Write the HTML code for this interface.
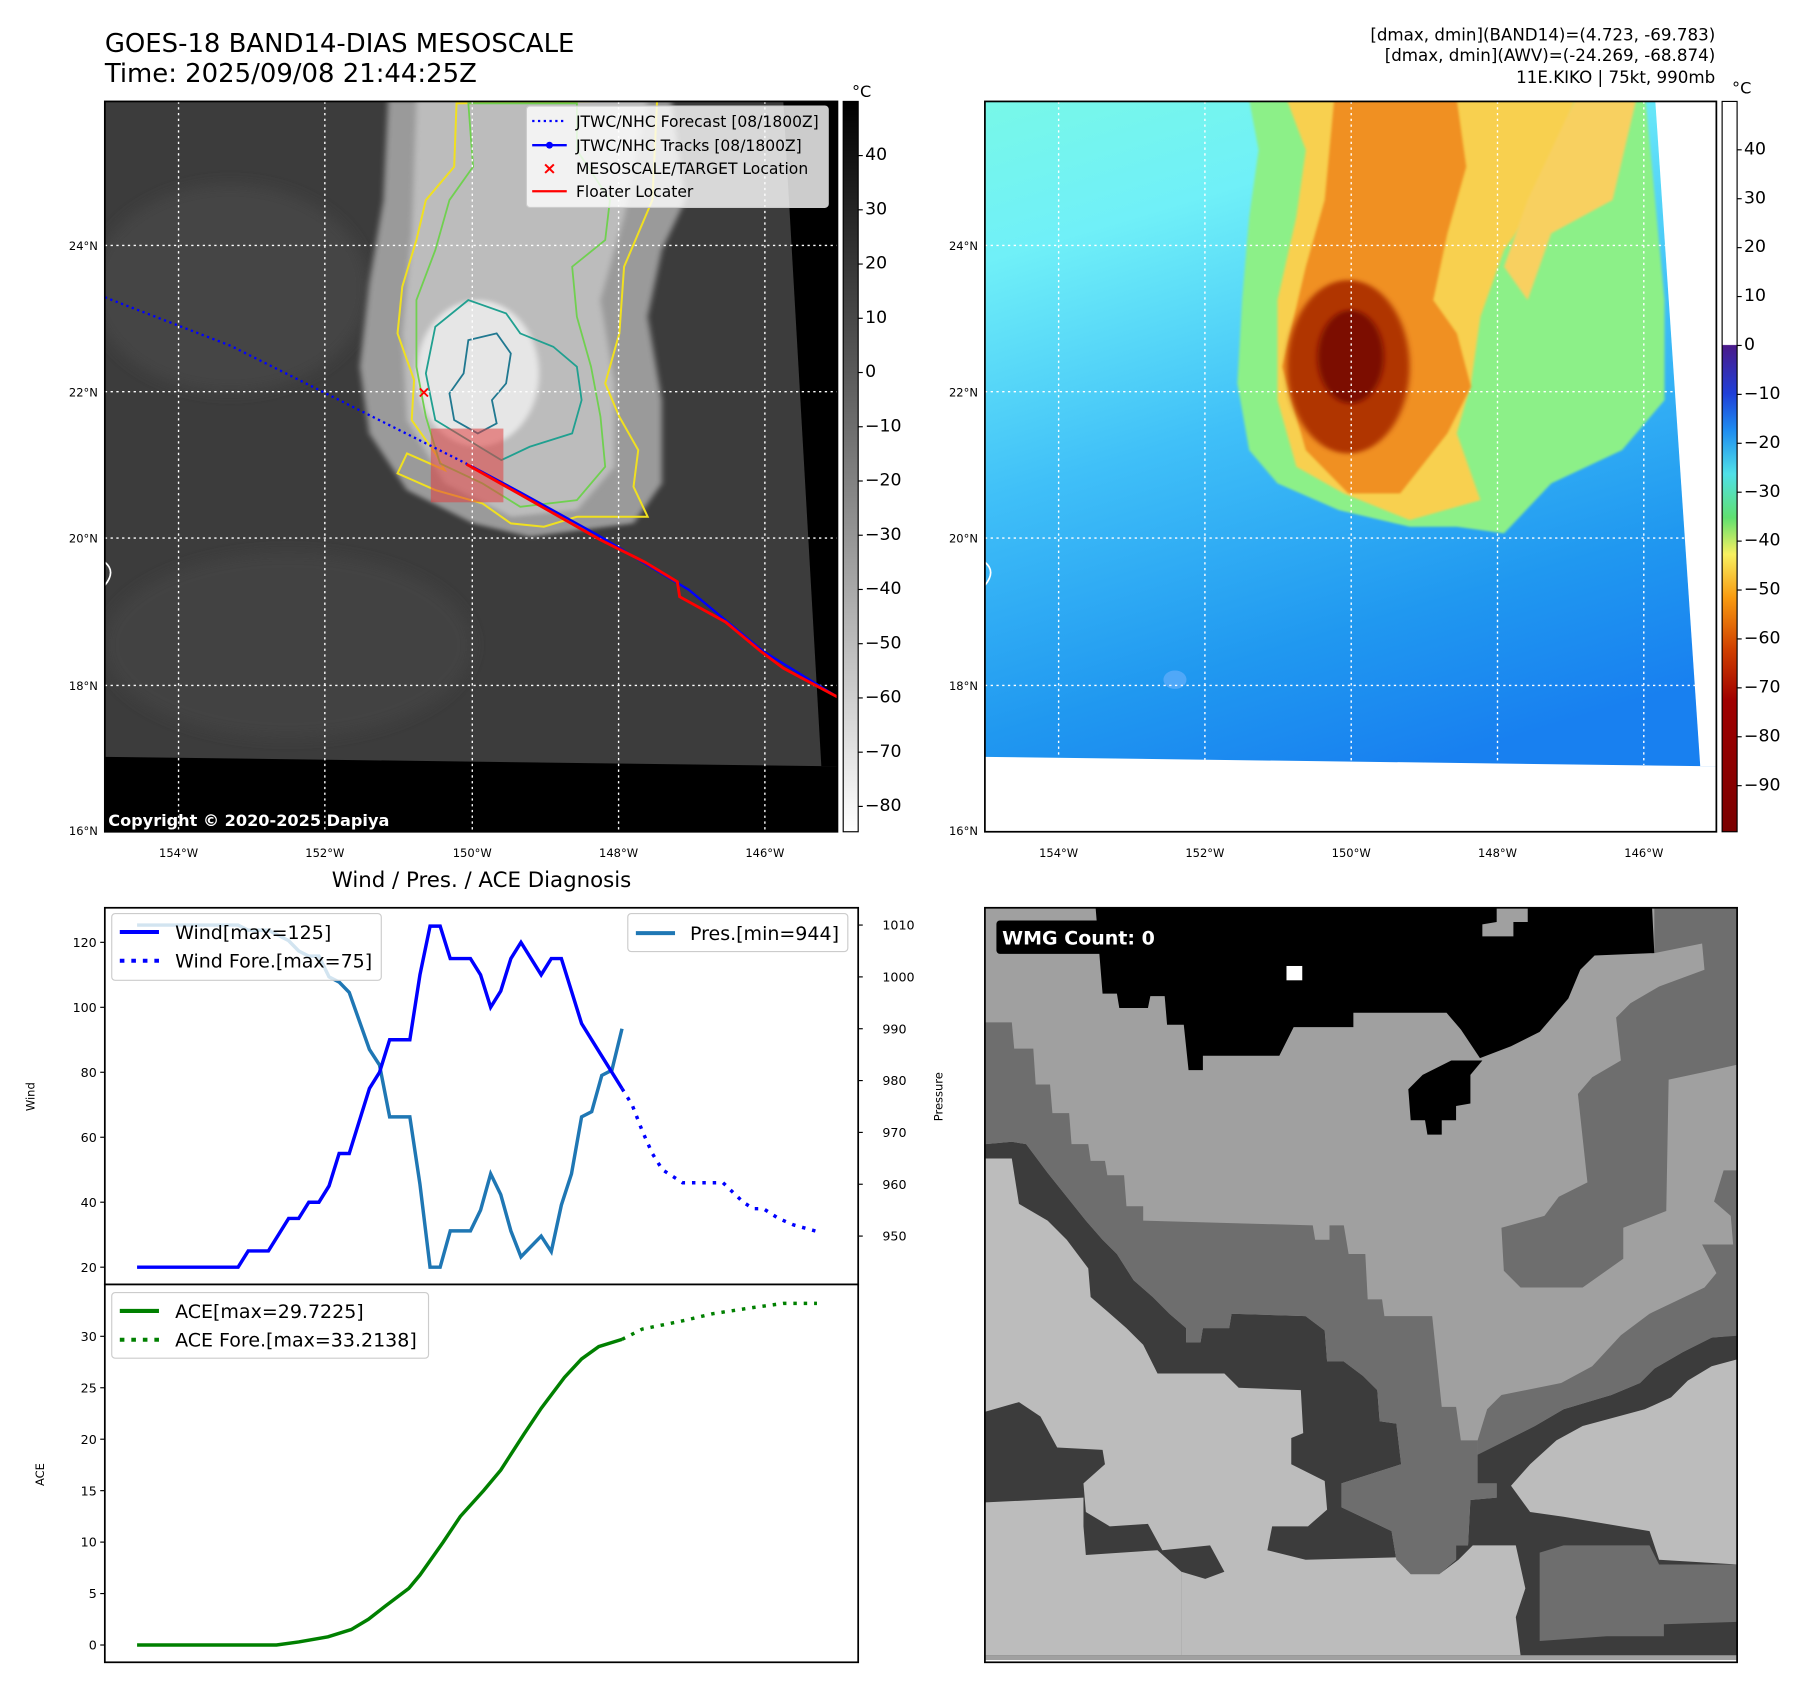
<!DOCTYPE html>
<html><head><meta charset="utf-8"><style>
html,body{margin:0;padding:0;background:#fff}
svg{display:block;font-family:"DejaVu Sans","Liberation Sans",sans-serif}
</style></head><body>
<svg width="1797" height="1690" viewBox="0 0 1560 1467" xmlns="http://www.w3.org/2000/svg">
<defs>
<linearGradient id="cb1" x1="0" y1="0" x2="0" y2="1"><stop offset="0" stop-color="#000"/><stop offset="0.37" stop-color="#5a5a5a"/><stop offset="1" stop-color="#fff"/></linearGradient>
<linearGradient id="cb2" x1="0" y1="0" x2="0" y2="1">
<stop offset="0" stop-color="#fff"/><stop offset="0.333" stop-color="#fff"/>
<stop offset="0.334" stop-color="#4b1a8a"/><stop offset="0.40" stop-color="#1f3fd8"/><stop offset="0.45" stop-color="#1e8cf0"/>
<stop offset="0.51" stop-color="#4fe0e8"/><stop offset="0.57" stop-color="#60e070"/><stop offset="0.62" stop-color="#f8f060"/>
<stop offset="0.68" stop-color="#f89a10"/><stop offset="0.75" stop-color="#d04000"/><stop offset="0.82" stop-color="#a00000"/><stop offset="1" stop-color="#7a0000"/></linearGradient>
<linearGradient id="bgR" x1="0" y1="0" x2="0.3" y2="1"><stop offset="0" stop-color="#78f8e8"/><stop offset="0.2" stop-color="#70f0f8"/><stop offset="0.5" stop-color="#40c0f8"/><stop offset="0.8" stop-color="#2098f0"/><stop offset="1" stop-color="#1880f0"/></linearGradient>
<filter id="blur4"><feGaussianBlur stdDeviation="6"/></filter>
<filter id="blur2"><feGaussianBlur stdDeviation="3"/></filter>
<clipPath id="clipL"><rect x="91" y="88" width="636" height="634"/></clipPath>
<clipPath id="clipR"><rect x="855" y="88" width="635" height="634"/></clipPath>
</defs>

<text x="91" y="45" font-size="22.5">GOES-18 BAND14-DIAS MESOSCALE</text>
<text x="91" y="71" font-size="22.5">Time: 2025/09/08 21:44:25Z</text>
<g font-size="14.5" text-anchor="end">
<text x="1489" y="35">[dmax, dmin](BAND14)=(4.723, -69.783)</text>
<text x="1489" y="53">[dmax, dmin](AWV)=(-24.269, -68.874)</text>
<text x="1489" y="72">11E.KIKO | 75kt, 990mb</text>
</g>

<!-- LEFT MAP -->
<g clip-path="url(#clipL)">
<rect x="91" y="88" width="636" height="634" fill="#3c3c3c"/>
<ellipse cx="200" cy="250" rx="120" ry="90" fill="#444" filter="url(#blur4)"/>
<ellipse cx="250" cy="560" rx="160" ry="80" fill="#434343" filter="url(#blur4)"/>
<g transform="translate(91.1,86.8) scale(0.4097,0.2894)">
<polygon filter="url(#blur4)" fill="#9a9a9a" points="600,0 1200,0 1230,300 1180,450 1150,650 1180,900 1180,1150 1120,1270 900,1310 780,1270 640,1170 560,1000 540,800 560,550 590,300"/>
<polygon filter="url(#blur4)" fill="#bcbcbc" points="660,0 1150,0 1100,350 1050,600 1080,850 1080,1100 1000,1230 860,1250 720,1150 640,960 630,700 650,400"/>
<ellipse filter="url(#blur4)" cx="790" cy="820" rx="130" ry="220" fill="#e6e6e6"/>
<polygon fill="none" stroke="#f0e020" stroke-width="2" vector-effect="non-scaling-stroke" points="745,10 740,200 680,300 660,420 630,560 620,700 655,840 650,960 700,1060 720,1110 640,1060 620,1120 700,1170 800,1210 860,1270 930,1280 1000,1250 1150,1250 1120,1160 1130,1050 1090,950 1060,850 1090,700 1100,500 1130,400 1160,300 1170,0"/>
<polygon fill="none" stroke="#70d050" stroke-width="1.8" vector-effect="non-scaling-stroke" points="770,10 780,200 730,300 700,450 660,600 660,800 680,950 710,1090 800,1150 880,1220 1000,1200 1060,1100 1050,950 1030,800 1000,650 990,500 1060,420 1070,300 1000,150 1000,10"/>
<polygon fill="none" stroke="#20a090" stroke-width="1.8" vector-effect="non-scaling-stroke" points="770,600 850,640 880,700 950,740 1000,800 1010,900 990,1000 900,1040 840,1080 770,1020 700,960 680,820 700,680"/>
<polygon fill="none" stroke="#207890" stroke-width="1.8" vector-effect="non-scaling-stroke" points="770,720 830,700 860,760 850,850 820,900 830,970 790,1000 740,960 730,880 760,820"/>
</g>
<polygon points="91,657 713,665 727,665 727,722 91,722" fill="#000"/>
<polygon points="680,88 727,88 727,665 713,665" fill="#000"/>
<rect x="374" y="372" width="63" height="64" fill="#e04040" fill-opacity="0.55"/>
<g stroke="#fff" stroke-width="1.2" stroke-dasharray="2,3">
<line x1="155" y1="88" x2="155" y2="722"/><line x1="282" y1="88" x2="282" y2="722"/><line x1="410" y1="88" x2="410" y2="722"/><line x1="537" y1="88" x2="537" y2="722"/><line x1="664" y1="88" x2="664" y2="722"/>
<line x1="91" y1="213" x2="727" y2="213"/><line x1="91" y1="340" x2="727" y2="340"/><line x1="91" y1="467" x2="727" y2="467"/><line x1="91" y1="595" x2="727" y2="595"/>
</g>
<polyline points="91,258 200,300 300,350 410,405" fill="none" stroke="#0000ff" stroke-width="2" stroke-dasharray="2,3"/>
<polyline points="410,405 453,428 520,465 598,512 662,565 727,605" fill="none" stroke="#0000ff" stroke-width="2"/>
<polyline points="405,403 453,430 520,468 560,488 588,505 590,518 630,540 660,565 680,580 727,605" fill="none" stroke="#ff0000" stroke-width="2.5"/>
<text x="368" y="345" font-size="14" fill="#ff0000" text-anchor="middle" font-weight="bold">×</text>
<path d="M91,488 q10,8 0,20" stroke="#fff" fill="none" stroke-width="1.5"/>
<text x="94" y="717" font-size="14" font-weight="bold" fill="#fff">Copyright © 2020-2025 Dapiya</text>
</g>
<rect x="91" y="88" width="636" height="634" fill="none" stroke="#000" stroke-width="1.5"/>
<g font-size="13.5">
<rect x="457" y="92" width="262" height="88" rx="3" fill="#fff" fill-opacity="0.8" stroke="#ccc"/>
<line x1="462" y1="105" x2="492" y2="105" stroke="#0000ff" stroke-width="2" stroke-dasharray="2,3"/><text x="500" y="110">JTWC/NHC Forecast [08/1800Z]</text>
<line x1="462" y1="126" x2="492" y2="126" stroke="#0000ff" stroke-width="2"/><circle cx="477" cy="126" r="3" fill="#0000ff"/><text x="500" y="131">JTWC/NHC Tracks [08/1800Z]</text>
<text x="477" y="151" fill="#ff0000" font-weight="bold" text-anchor="middle" font-size="15">×</text><text x="500" y="151">MESOSCALE/TARGET Location</text>
<line x1="462" y1="166" x2="492" y2="166" stroke="#ff0000" stroke-width="2"/><text x="500" y="171">Floater Locater</text>
</g>
<g font-size="10" text-anchor="end">
<text x="85" y="217">24°N</text><text x="85" y="344">22°N</text><text x="85" y="471">20°N</text><text x="85" y="599">18°N</text><text x="85" y="725">16°N</text>
</g>
<g font-size="10" text-anchor="middle">
<text x="155" y="744">154°W</text><text x="282" y="744">152°W</text><text x="410" y="744">150°W</text><text x="537" y="744">148°W</text><text x="664" y="744">146°W</text>
</g>
<rect x="732" y="88" width="13" height="634" fill="url(#cb1)" stroke="#000" stroke-width="1"/>
<text x="748" y="84" font-size="14" text-anchor="middle">°C</text>
<g id="cb1t"></g>

<!-- RIGHT MAP -->
<g clip-path="url(#clipR)">
<rect x="855" y="88" width="635" height="634" fill="url(#bgR)"/>
<ellipse cx="1020" cy="590" rx="10" ry="8" fill="#50a8f8"/>
<g transform="translate(855,86.8) scale(0.4097,0.2894)">
<polygon filter="url(#blur2)" fill="#8cf088" points="560,0 1400,0 1420,300 1440,600 1440,900 1350,1050 1200,1150 1100,1300 1000,1280 900,1280 750,1230 620,1150 560,1050 535,850 545,600 560,350 580,150"/>
<polygon filter="url(#blur2)" fill="#f8d050" points="640,0 1250,0 1200,250 1100,450 1050,650 1030,850 1000,1000 1050,1200 900,1260 760,1180 660,1100 620,900 620,600 660,350 680,150"/>
<polygon filter="url(#blur2)" fill="#f8d060" points="1250,0 1380,0 1330,300 1200,400 1150,600 1100,500 1150,300"/>
<polygon filter="url(#blur2)" fill="#f09020" points="740,0 1000,0 1020,200 980,400 950,600 1000,700 1030,860 980,1000 880,1180 770,1180 680,1050 630,800 680,500 720,300"/>
<ellipse filter="url(#blur4)" cx="770" cy="800" rx="130" ry="260" fill="#b03400"/>
<ellipse filter="url(#blur4)" cx="775" cy="770" rx="70" ry="140" fill="#7c1000"/>
</g>
<polygon points="855,657 1476,665 1490,665 1490,722 855,722" fill="#fff"/>
<polygon points="1437,88 1490,88 1490,665 1476,665" fill="#fff"/>
<g stroke="#fff" stroke-width="1.2" stroke-dasharray="2,3">
<line x1="919" y1="88" x2="919" y2="660"/><line x1="1046" y1="88" x2="1046" y2="660"/><line x1="1173" y1="88" x2="1173" y2="662"/><line x1="1300" y1="88" x2="1300" y2="663"/><line x1="1427" y1="88" x2="1427" y2="664"/>
<line x1="855" y1="213" x2="1490" y2="213"/><line x1="855" y1="340" x2="1490" y2="340"/><line x1="855" y1="467" x2="1490" y2="467"/><line x1="855" y1="595" x2="1490" y2="595"/>
</g>
<path d="M855,488 q10,8 0,20" stroke="#fff" fill="none" stroke-width="1.5"/>
</g>
<rect x="855" y="88" width="635" height="634" fill="none" stroke="#000" stroke-width="1.5"/>
<g font-size="10" text-anchor="end">
<text x="849" y="217">24°N</text><text x="849" y="344">22°N</text><text x="849" y="471">20°N</text><text x="849" y="599">18°N</text><text x="849" y="725">16°N</text>
</g>
<g font-size="10" text-anchor="middle">
<text x="919" y="744">154°W</text><text x="1046" y="744">152°W</text><text x="1173" y="744">150°W</text><text x="1300" y="744">148°W</text><text x="1427" y="744">146°W</text>
</g>
<rect x="1495" y="88" width="13" height="634" fill="url(#cb2)" stroke="#000" stroke-width="1"/>
<text x="1512" y="81" font-size="14" text-anchor="middle">°C</text>
<g id="cb2t"></g>

<!-- CHARTS -->
<text x="418" y="770" font-size="18.5" text-anchor="middle">Wind / Pres. / ACE Diagnosis</text>
<rect x="91" y="788" width="654" height="327" fill="#fff" stroke="#000" stroke-width="1.5"/>
<rect x="91" y="1115" width="654" height="328" fill="#fff" stroke="#000" stroke-width="1.5"/>
<g id="plot"></g>
<text transform="translate(30,952) rotate(-90)" font-size="10" text-anchor="middle">Wind</text>
<text transform="translate(818,952) rotate(-90)" font-size="10" text-anchor="middle">Pressure</text>
<text transform="translate(38,1280) rotate(-90)" font-size="10" text-anchor="middle">ACE</text>
<g font-size="16.5">
<rect x="97" y="793" width="234" height="58" rx="3" fill="#fff" fill-opacity="0.8" stroke="#ccc"/>
<line x1="104" y1="809" x2="138" y2="809" stroke="#0000ff" stroke-width="3.5"/><text x="152" y="815">Wind[max=125]</text>
<line x1="104" y1="834" x2="138" y2="834" stroke="#0000ff" stroke-width="3.5" stroke-dasharray="4,6"/><text x="152" y="840">Wind Fore.[max=75]</text>
</g>
<g font-size="16.5">
<rect x="545" y="793" width="191" height="33" rx="3" fill="#fff" fill-opacity="0.8" stroke="#ccc"/>
<line x1="552" y1="810" x2="586" y2="810" stroke="#1f77b4" stroke-width="3.5"/><text x="599" y="816">Pres.[min=944]</text>
</g>
<g font-size="16.5">
<rect x="97" y="1122" width="275" height="57" rx="3" fill="#fff" fill-opacity="0.8" stroke="#ccc"/>
<line x1="104" y1="1138" x2="138" y2="1138" stroke="#008000" stroke-width="3.5"/><text x="152" y="1144">ACE[max=29.7225]</text>
<line x1="104" y1="1163" x2="138" y2="1163" stroke="#008000" stroke-width="3.5" stroke-dasharray="4,6"/><text x="152" y="1169">ACE Fore.[max=33.2138]</text>
</g>

<!-- WMG PANEL -->
<svg x="855" y="788" width="653" height="655" viewBox="0 0 653 655">
<g transform="translate(13,2) scale(0.4147)">
<rect x="-40" y="-10" width="1600" height="1580" fill="#a0a0a0"/>
<polygon fill="#3c3c3c" points="-30,490 25,485 55,490 100,550 140,600 180,650 215,690 245,720 280,775 320,810 355,845 390,875 390,905 420,905 425,875 480,875 485,845 640,850 680,880 685,945 720,945 760,975 790,1005 795,1070 830,1075 840,1160 715,1200 715,1250 820,1300 830,1360 860,1390 920,1390 955,1360 955,1330 980,1330 985,1235 1040,1230 1040,1200 1000,1200 1000,1140 1120,1080 1180,1045 1280,1015 1340,990 1370,960 1430,925 1490,895 1545,890 1545,1560 -30,1560"/>
<polygon fill="#bcbcbc" points="-30,520 25,520 40,615 100,650 140,690 185,750 190,810 225,840 265,875 300,910 330,970 470,970 500,1000 630,1005 635,1095 610,1105 610,1160 680,1195 685,1255 645,1290 570,1290 560,1340 640,1360 830,1355 860,1390 920,1390 960,1360 990,1330 1080,1330 1100,1420 1080,1480 1090,1560 380,1560 380,1385 430,1400 470,1385 440,1330 340,1340 310,1285 230,1290 180,1260 175,1200 220,1160 215,1130 120,1125 85,1060 40,1030 -30,1050"/>
<polygon fill="#bcbcbc" points="-30,1240 175,1230 175,1290 180,1350 330,1340 380,1385 380,1560 -30,1560"/>
<polygon fill="#bcbcbc" points="1070,1205 1110,1160 1165,1110 1220,1080 1350,1045 1405,1020 1440,985 1490,955 1545,940 1545,1370 1380,1360 1360,1300 1180,1270 1110,1260"/>
<polygon fill="#6e6e6e" points="1130,1345 1180,1330 1360,1330 1380,1370 1545,1370 1545,1490 1390,1495 1390,1520 1270,1520 1130,1530"/>
<polygon fill="#6e6e6e" points="-30,235 25,235 30,290 70,290 75,365 105,365 110,425 145,425 150,490 185,490 190,525 220,525 225,555 260,555 265,620 300,620 300,650 655,660 660,690 690,690 690,660 720,660 730,720 765,720 770,815 800,815 805,850 905,850 925,1040 955,1040 965,1110 1000,1110 1000,1200 1040,1200 1040,1230 985,1235 980,1330 955,1330 955,1360 920,1390 860,1390 830,1360 820,1300 715,1250 715,1200 840,1160 830,1075 795,1070 790,1005 760,975 720,945 685,945 680,880 640,850 485,845 480,875 425,875 420,905 390,905 390,875 355,845 320,810 280,775 245,720 215,690 180,650 140,600 100,550 55,490 25,485 -30,490"/>
<polygon fill="#6e6e6e" points="1370,-10 1560,-10 1560,320 1470,340 1400,355 1395,630 1305,665 1305,730 1220,790 1090,790 1055,755 1050,665 1140,640 1170,600 1230,570 1210,385 1240,350 1300,315 1290,225 1320,195 1380,160 1475,125 1470,70 1370,90"/>
<polygon fill="#6e6e6e" points="1560,545 1560,890 1490,895 1430,925 1370,960 1340,990 1280,1015 1180,1045 1120,1080 1000,1140 1000,1110 1020,1045 1050,1015 1175,990 1240,955 1300,890 1360,845 1475,790 1500,760 1470,700 1535,700 1530,640 1495,610 1515,545"/>
<polygon fill="#000" points="200,-10 1365,-10 1370,90 1245,95 1215,125 1190,185 1160,220 1130,255 1070,285 1005,310 965,250 935,215 740,215 740,245 615,245 585,305 425,305 425,335 395,335 385,240 350,240 345,180 315,180 310,205 250,205 245,175 215,175"/>
<polygon fill="#a0a0a0" points="1040,-10 1105,-10 1105,25 1075,25 1075,55 1010,55 1010,30 1040,25"/>
<polygon fill="#000" points="855,375 885,345 945,315 1010,315 985,345 985,405 955,410 955,440 925,440 925,470 895,470 890,440 860,440"/>
<rect x="600" y="117" width="33" height="30" fill="#fff"/>
</g>
</svg>
<rect x="855" y="788" width="653" height="655" fill="none" stroke="#000" stroke-width="1.5"/>
<rect x="865" y="799" width="158" height="29" rx="3" fill="#000"/>
<text x="870" y="820" font-size="16.5" font-weight="bold" fill="#fff">WMG Count: 0</text>
</svg>
<script>
// chart data (time in 6-hour steps)
const windT=[0,10,11,13,15,16,17,18,19,20,21,23,24,25,27,28,29,30,31,33,34,35,36,37,38,40,41,42,44,46,48];
const windV=[20,20,25,25,35,35,40,40,45,55,55,75,80,90,90,110,125,125,115,115,110,100,105,115,120,110,115,115,95,85,75];
const windForeT=[48,49,50,51,52,54,55,58,59,60,61,62,63.5,65,67.3];
const windForeV=[75,70,62,55,50,46,46,46,43,40,38,38,35,33,31];
const presT=[0,10,11,13,15,16,17,18,19,20,21,23,24,25,27,28,29,30,31,33,34,35,36,37,38,39,40,41,42,43,44,45,46,47,48];
const presV=[1010,1010,1009,1009,1007,1005,1004,1004,1000,999,997,986,983,973,973,960,944,944,951,951,955,962,958,951,946,948,950,947,956,962,973,974,981,982,990];
const aceT=[0,13.8,16,18.9,21.2,22.9,24.6,26.9,28,30.3,32,34.3,36,38.3,40,42.3,44,45.7,48];
const aceV=[0,0,0.3,0.8,1.5,2.5,3.8,5.5,6.8,10,12.5,15,17,20.5,23,26,27.8,29,29.7];
const aceForeT=[48,50,54,57,61,64,67.3];
const aceForeV=[29.7,30.7,31.5,32.2,32.8,33.2,33.2];
const windTicks=[20,40,60,80,100,120];
const presTicks=[950,960,970,980,990,1000,1010];
const aceTicks=[0,5,10,15,20,25,30];
const cb1Ticks=[40,30,20,10,0,-10,-20,-30,-40,-50,-60,-70,-80];
const cb2Ticks=[40,30,20,10,0,-10,-20,-30,-40,-50,-60,-70,-80,-90];

const NS='http://www.w3.org/2000/svg';
const xS=t=>119+t*8.77;
const yW=v=>1100-(v-20)*2.82;
const yP=v=>803+(1010-v)*4.5;
const yA=v=>1428-v*8.933;
const cb1Y=v=>135+(40-v)*(565/120);
const cb2Y=v=>130+(40-v)*(552/130);
const plot=document.getElementById('plot');
function line(T,V,ys,color,dash,name){
  const p=document.createElementNS(NS,'polyline');
  p.setAttribute('points',T.map((t,i)=>xS(t)+','+ys(V[i])).join(' '));
  p.setAttribute('fill','none');p.setAttribute('stroke',color);p.setAttribute('stroke-width','3');
  if(dash)p.setAttribute('stroke-dasharray','3,6');
  
  
  plot.appendChild(p);
}
function tick(g,x,y,len,label,anchor,tx,fs){
  const l=document.createElementNS(NS,'line');
  l.setAttribute('x1',x);l.setAttribute('x2',x+len);l.setAttribute('y1',y);l.setAttribute('y2',y);l.setAttribute('stroke','#000');
  g.appendChild(l);
  const t=document.createElementNS(NS,'text');
  t.setAttribute('x',tx);t.setAttribute('y',y+4);t.setAttribute('font-size',fs);t.setAttribute('text-anchor',anchor);
  t.textContent=label;
  
  
  g.appendChild(t);
}
windTicks.forEach(v=>tick(plot,91,yW(v),-4,v,'end',84,11));
presTicks.forEach(v=>tick(plot,745,yP(v),4,v,'start',766,11));
aceTicks.forEach(v=>tick(plot,91,yA(v),-4,v,'end',84,11));
const g1=document.getElementById('cb1t');
cb1Ticks.forEach(v=>tick(g1,745,cb1Y(v),4,String(v).replace('-','\u2212'),'start',751,15));
const g2=document.getElementById('cb2t');
cb2Ticks.forEach(v=>tick(g2,1508,cb2Y(v),4,String(v).replace('-','\u2212'),'start',1514,15));
line(presT,presV,yP,'#1f77b4',false,'pressure-line');
line(windT,windV,yW,'#0000ff',false,'wind-line');
line(windForeT,windForeV,yW,'#0000ff',true,'wind-forecast-line');
line(aceT,aceV,yA,'#008000',false,'ace-line');
line(aceForeT,aceForeV,yA,'#008000',true,'ace-forecast-line');
</script>
</body></html>
